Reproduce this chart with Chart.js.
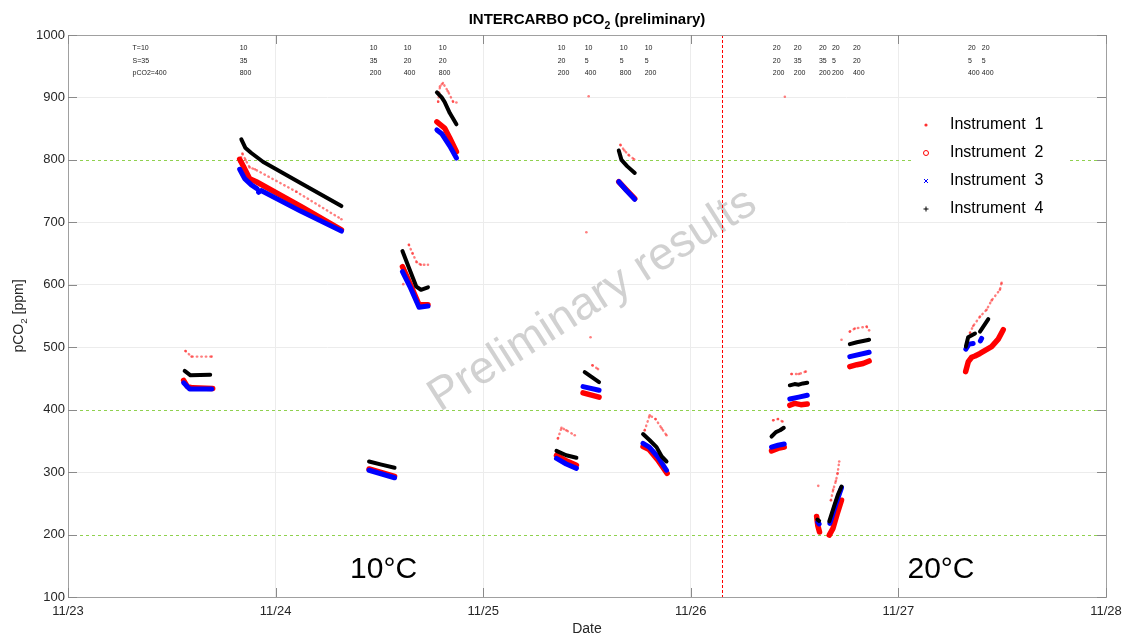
<!DOCTYPE html>
<html lang="en">
<head>
<meta charset="UTF-8">
<title>INTERCARBO pCO2 (preliminary)</title>
<script src="https://cdn.jsdelivr.net/npm/chart.js"></script>
<style>
    html, body { margin: 0; padding: 0; background: #fff; }
    #wrap { width: 1124px; height: 639px; }
</style>
</head>
<body>
<div id="wrap"><canvas id="pco2Chart" width="1124" height="639"></canvas></div>
<script>
    // Tick labels (days since 11/23)
    const dayLabels = ['11/23', '11/24', '11/25', '11/26', '11/27', '11/28'];

    // [day, pCO2] pairs, null = break between runs
    const inst1 = [
        [0.566,494],[0.595,485],[0.692,485], null,
        [0.827,797],[0.840,810],[0.855,800],[0.875,788],[0.900,785],[1.100,749],[1.317,705], null,
        [1.615,601], null,
        [1.642,664],[1.660,650],[1.680,636],[1.700,632],[1.734,632], null,
        [1.783,893],[1.792,918],[1.806,923],[1.830,910],[1.855,893],[1.871,892], null,
        [2.360,354],[2.377,371],[2.400,367],[2.441,359], null,
        [2.497,684], null, [2.508,902], null, [2.517,516], null,
        [2.526,471],[2.553,465], null,
        [2.661,824],[2.680,815],[2.700,808],[2.727,801], null,
        [2.778,367],[2.802,391],[2.830,385],[2.860,370],[2.883,359], null,
        [3.397,383],[3.420,385],[3.442,381], null,
        [3.453,901], null,
        [3.485,457],[3.520,457],[3.554,461], null,
        [3.614,278], null,
        [3.675,255],[3.686,272],[3.699,286],[3.707,298],[3.715,317], null,
        [3.726,512], null,
        [3.766,525],[3.790,530],[3.847,533],[3.859,527], null,
        [4.345,523],[4.360,534],[4.393,549],[4.425,560],[4.449,575],[4.489,592],[4.497,603]
    ];
    const inst2 = [
        [0.557,447],[0.575,437],[0.600,435],[0.697,434], null,
        [0.827,801],[0.846,789],[0.875,770],[0.907,765],[1.130,724],[1.317,688], null,
        [1.450,305],[1.573,293], null,
        [1.611,629],[1.650,600],[1.691,568],[1.734,568], null,
        [1.777,861],[1.814,851],[1.839,835],[1.871,813], null,
        [2.353,327],[2.400,318],[2.449,311], null,
        [2.481,427],[2.558,420], null,
        [2.653,765],[2.690,752],[2.730,738], null,
        [2.770,341],[2.800,336],[2.840,320],[2.886,298], null,
        [3.389,334],[3.420,338],[3.450,340], null,
        [3.477,407],[3.500,410],[3.530,408],[3.561,409], null,
        [3.606,229],[3.612,214],[3.620,204], null,
        [3.667,199],[3.685,210],[3.699,226],[3.705,233],[3.726,255], null,
        [3.766,469],[3.800,472],[3.830,474],[3.859,478], null,
        [4.324,461],[4.337,477],[4.353,484],[4.369,486],[4.393,490],[4.449,501],[4.481,513],[4.505,528]
    ];
    const inst3 = [
        [0.557,443],[0.586,433],[0.692,433], null,
        [0.827,785],[0.851,770],[0.883,760],[0.910,754], null,
        [0.918,748],[0.930,751],[1.120,718],[1.317,686], null,
        [1.450,303],[1.573,291], null,
        [1.611,621],[1.650,595],[1.691,564],[1.734,566], null,
        [1.777,848],[1.800,842],[1.839,822],[1.871,803], null,
        [2.353,322],[2.400,313],[2.449,306], null,
        [2.481,437],[2.558,431], null,
        [2.653,765],[2.690,751],[2.730,737], null,
        [2.770,346],[2.800,340],[2.840,325],[2.883,303], null,
        [3.389,340],[3.420,343],[3.450,345], null,
        [3.477,417],[3.520,420],[3.561,423], null,
        [3.612,220],[3.618,217], null,
        [3.670,218],[3.700,250],[3.726,275], null,
        [3.766,485],[3.859,492], null,
        [4.325,497],[4.340,505],[4.360,506], null,
        [4.395,510],[4.401,514]
    ];
    const inst4 = [
        [0.562,462],[0.590,455],[0.685,456], null,
        [0.835,833],[0.855,819],[0.883,811],[0.939,797],[1.120,763],[1.317,726], null,
        [1.450,317],[1.510,312],[1.573,307], null,
        [1.611,654],[1.645,625],[1.678,597],[1.700,592],[1.734,596], null,
        [1.777,908],[1.800,900],[1.814,893],[1.839,875],[1.871,857], null,
        [2.353,334],[2.400,327],[2.449,323], null,
        [2.489,460],[2.558,444], null,
        [2.653,815],[2.666,800],[2.693,790],[2.730,779], null,
        [2.770,361],[2.802,351],[2.835,340],[2.860,325],[2.883,317], null,
        [3.389,357],[3.410,364],[3.430,367],[3.448,371], null,
        [3.477,439],[3.500,441],[3.520,440],[3.540,442],[3.561,443], null,
        [3.610,224],[3.618,222], null,
        [3.667,221],[3.690,245],[3.710,265],[3.726,277], null,
        [3.766,505],[3.800,508],[3.830,510],[3.859,512], null,
        [4.325,501],[4.336,516],[4.369,522], null,
        [4.393,525],[4.433,545]
    ];

    // Target levels and the 10 -> 20 degree switch
    const targetLevels = [200, 400, 800];
    const switchDay = 3.149;

    // Run conditions written along the top (T, S, pCO2)
    const condDays = [0.311, 0.827, 1.453, 1.617, 1.786, 2.359, 2.489, 2.658, 2.778,
                      3.395, 3.496, 3.617, 3.680, 3.781, 4.335, 4.402];
    const condT = ['T=10', '10', '10', '10', '10', '10', '10', '10', '10',
                   '20', '20', '20', '20', '20', '20', '20'];
    const condS = ['S=35', '35', '35', '20', '20', '20', '5', '5', '5',
                   '20', '35', '35', '5', '20', '5', '5'];
    const condP = ['pCO2=400', '800', '200', '400', '800', '200', '400', '800', '200',
                   '200', '200', '200', '200', '400', '400', '400'];

    const FONT = "'Liberation Sans', Arial, sans-serif";
    Chart.defaults.font.family = FONT;

    function toPoints(list) {
        let lastX = 0;
        return list.map(p => {
            if (!p) return { x: lastX, y: null };
            lastX = p[0];
            return { x: p[0], y: p[1] };
        });
    }

    // text with a subscript part, e.g. pCO2
    function drawSubText(ctx, parts, x, y, size, bold, align) {
        const w = parts.reduce((s, p) => {
            ctx.font = (bold ? 'bold ' : '') + (p.sub ? size * 0.7 : size) + 'px ' + FONT;
            return s + ctx.measureText(p.t).width;
        }, 0);
        let cx = align === 'center' ? x - w / 2 : x;
        parts.forEach(p => {
            ctx.font = (bold ? 'bold ' : '') + (p.sub ? size * 0.7 : size) + 'px ' + FONT;
            ctx.fillText(p.t, cx, p.sub ? y + size * 0.3 : y);
            cx += ctx.measureText(p.t).width;
        });
    }

    const decorPlugin = {
        id: 'decor',
        beforeDatasetsDraw(chart) {
            const { ctx, chartArea: a, scales: { x, y } } = chart;
            ctx.save();

            // watermark
            ctx.translate(x.getPixelForValue(2.56), y.getPixelForValue(558));
            ctx.rotate(-32.4 * Math.PI / 180);
            ctx.font = '46px ' + FONT;
            ctx.fillStyle = 'rgba(190,190,190,0.7)';
            ctx.textAlign = 'center';
            ctx.textBaseline = 'alphabetic';
            ctx.fillText('Preliminary results', 0, 0);
            ctx.setTransform(1, 0, 0, 1, 0, 0);

            // target lines
            ctx.strokeStyle = '#8fd14f';
            ctx.lineWidth = 1;
            ctx.setLineDash([3, 3]);
            targetLevels.forEach(v => {
                const py = Math.round(y.getPixelForValue(v)) + 0.5;
                ctx.beginPath();
                ctx.moveTo(a.left, py);
                ctx.lineTo(a.right, py);
                ctx.stroke();
            });

            // temperature switch
            ctx.strokeStyle = '#ff0000';
            ctx.setLineDash([3, 2]);
            const px = Math.round(x.getPixelForValue(switchDay)) + 0.5;
            ctx.beginPath();
            ctx.moveTo(px, a.top);
            ctx.lineTo(px, a.bottom);
            ctx.stroke();
            ctx.restore();
        },
        afterDatasetsDraw(chart) {
            const { ctx, chartArea: a, scales: { x, y } } = chart;
            ctx.save();

            // legend box
            const lx = 911, ly = 98, lw = 157, lh = 124;
            ctx.fillStyle = '#fff';
            ctx.fillRect(lx, ly, lw, lh);
            ctx.font = '16px ' + FONT;
            ctx.textBaseline = 'middle';
            ctx.textAlign = 'left';
            chart.data.datasets.forEach((ds, i) => {
                const my = ly + 27 + i * 28;
                const mx = lx + 15;
                ctx.strokeStyle = ds.legendColor;
                ctx.lineWidth = 1;
                ctx.beginPath();
                if (i === 0) {
                    ctx.fillStyle = ds.legendColor;
                    ctx.arc(mx, my, 1.6, 0, Math.PI * 2);
                    ctx.fill();
                } else if (i === 1) {
                    ctx.arc(mx, my, 2.5, 0, Math.PI * 2);
                    ctx.stroke();
                } else if (i === 2) {
                    ctx.moveTo(mx - 2, my - 2); ctx.lineTo(mx + 2, my + 2);
                    ctx.moveTo(mx + 2, my - 2); ctx.lineTo(mx - 2, my + 2);
                    ctx.stroke();
                } else {
                    ctx.moveTo(mx - 2.5, my); ctx.lineTo(mx + 2.5, my);
                    ctx.moveTo(mx, my - 2.5); ctx.lineTo(mx, my + 2.5);
                    ctx.stroke();
                }
                ctx.fillStyle = '#000';
                ctx.fillText(ds.label, lx + 39, my);
            });

            // axes box and inward ticks
            ctx.strokeStyle = '#a0a0a0';
            ctx.lineWidth = 1;
            ctx.strokeRect(Math.round(a.left) + 0.5, Math.round(a.top) + 0.5,
                Math.round(a.right - a.left), Math.round(a.bottom - a.top));
            ctx.strokeStyle = '#8a8a8a';
            ctx.beginPath();
            y.ticks.forEach(t => {
                const py = Math.round(y.getPixelForValue(t.value)) + 0.5;
                ctx.moveTo(a.left, py); ctx.lineTo(a.left + 9, py);
                ctx.moveTo(a.right, py); ctx.lineTo(a.right - 9, py);
            });
            x.ticks.forEach(t => {
                const px = Math.round(x.getPixelForValue(t.value)) + 0.5;
                ctx.moveTo(px, a.top); ctx.lineTo(px, a.top + 9);
                ctx.moveTo(px, a.bottom); ctx.lineTo(px, a.bottom - 9);
            });
            ctx.stroke();

            // run conditions
            ctx.fillStyle = '#222';
            ctx.font = '7px ' + FONT;
            ctx.textAlign = 'left';
            ctx.textBaseline = 'middle';
            condDays.forEach((d, i) => {
                const px = x.getPixelForValue(d);
                ctx.fillText(condT[i], px, a.top + 13);
                ctx.fillText(condS[i], px, a.top + 26);
                ctx.fillText(condP[i], px, a.top + 38);
            });

            // temperature labels
            ctx.fillStyle = '#000';
            ctx.font = '30px ' + FONT;
            ctx.textAlign = 'center';
            ctx.textBaseline = 'alphabetic';
            ctx.fillText('10°C', x.getPixelForValue(1.52), y.getPixelForValue(131));
            ctx.fillText('20°C', x.getPixelForValue(4.205), y.getPixelForValue(131));

            // title and y-axis label
            ctx.fillStyle = '#000';
            ctx.textAlign = 'left';
            drawSubText(ctx, [{ t: 'INTERCARBO pCO' }, { t: '2', sub: true }, { t: ' (preliminary)' }],
                (a.left + a.right) / 2, 24, 15, true, 'center');
            ctx.translate(23, (a.top + a.bottom) / 2);
            ctx.rotate(-Math.PI / 2);
            ctx.fillStyle = '#262626';
            drawSubText(ctx, [{ t: 'pCO' }, { t: '2', sub: true }, { t: ' [ppm]' }], 0, 0, 14, false, 'center');
            ctx.restore();
        }
    };

    const ctx = document.getElementById('pco2Chart').getContext('2d');
    const pco2Chart = new Chart(ctx, {
        type: 'scatter',
        data: {
            datasets: [{
                label: 'Instrument  1',
                data: toPoints(inst1),
                legendColor: '#ff3030',
                showLine: true,
                spanGaps: false,
                borderColor: 'rgba(255,40,40,0.6)',
                borderWidth: 2.4,
                borderDash: [0.5, 4],
                borderCapStyle: 'round',
                pointRadius: 1.3,
                pointBackgroundColor: 'rgba(255,40,40,0.6)',
                pointBorderWidth: 0,
                order: 4
            }, {
                label: 'Instrument  2',
                data: toPoints(inst2),
                legendColor: '#ff0000',
                showLine: true,
                spanGaps: false,
                borderColor: '#ff0000',
                borderWidth: 5.5,
                borderCapStyle: 'round',
                borderJoinStyle: 'round',
                pointRadius: 0,
                order: 3
            }, {
                label: 'Instrument  3',
                data: toPoints(inst3),
                legendColor: '#0000ff',
                showLine: true,
                spanGaps: false,
                borderColor: '#0000ff',
                borderWidth: 5,
                borderCapStyle: 'round',
                borderJoinStyle: 'round',
                pointRadius: 0,
                order: 2
            }, {
                label: 'Instrument  4',
                data: toPoints(inst4),
                legendColor: '#000000',
                showLine: true,
                spanGaps: false,
                borderColor: '#000000',
                borderWidth: 4,
                borderCapStyle: 'round',
                borderJoinStyle: 'round',
                pointRadius: 0,
                order: 1
            }]
        },
        options: {
            responsive: false,
            animation: false,
            events: [],
            layout: { padding: { left: 0, right: 18, top: 35, bottom: 0 } },
            plugins: {
                legend: { display: false },
                tooltip: { enabled: false },
                title: { display: false }
            },
            scales: {
                x: {
                    type: 'linear',
                    min: 0,
                    max: 5,
                    ticks: {
                        stepSize: 1,
                        color: '#262626',
                        font: { size: 13 },
                        padding: 7,
                        maxRotation: 0,
                        callback: v => dayLabels[Math.round(v)]
                    },
                    grid: { color: '#ececec', drawTicks: false },
                    border: { display: false },
                    title: {
                        display: true,
                        text: 'Date',
                        color: '#262626',
                        font: { size: 14 },
                        padding: { top: 0, bottom: 1 }
                    },
                    afterFit(s) {
                        s.height = 42;
                        s.paddingLeft = 0;
                        s.paddingRight = 0;
                    }
                },
                y: {
                    min: 100,
                    max: 1000,
                    ticks: {
                        stepSize: 100,
                        color: '#262626',
                        font: { size: 13 },
                        padding: 3,
                        callback: v => String(v)
                    },
                    grid: {
                        // target levels get their own dashed green line
                        color: c => targetLevels.includes(c.tick && c.tick.value) ? 'rgba(0,0,0,0)' : '#ececec',
                        drawTicks: false
                    },
                    border: { display: false },
                    afterFit(s) {
                        s.width = 68;
                        s.paddingTop = 0;
                        s.paddingBottom = 0;
                    }
                }
            }
        },
        plugins: [decorPlugin]
    });
</script>
</body>
</html>
